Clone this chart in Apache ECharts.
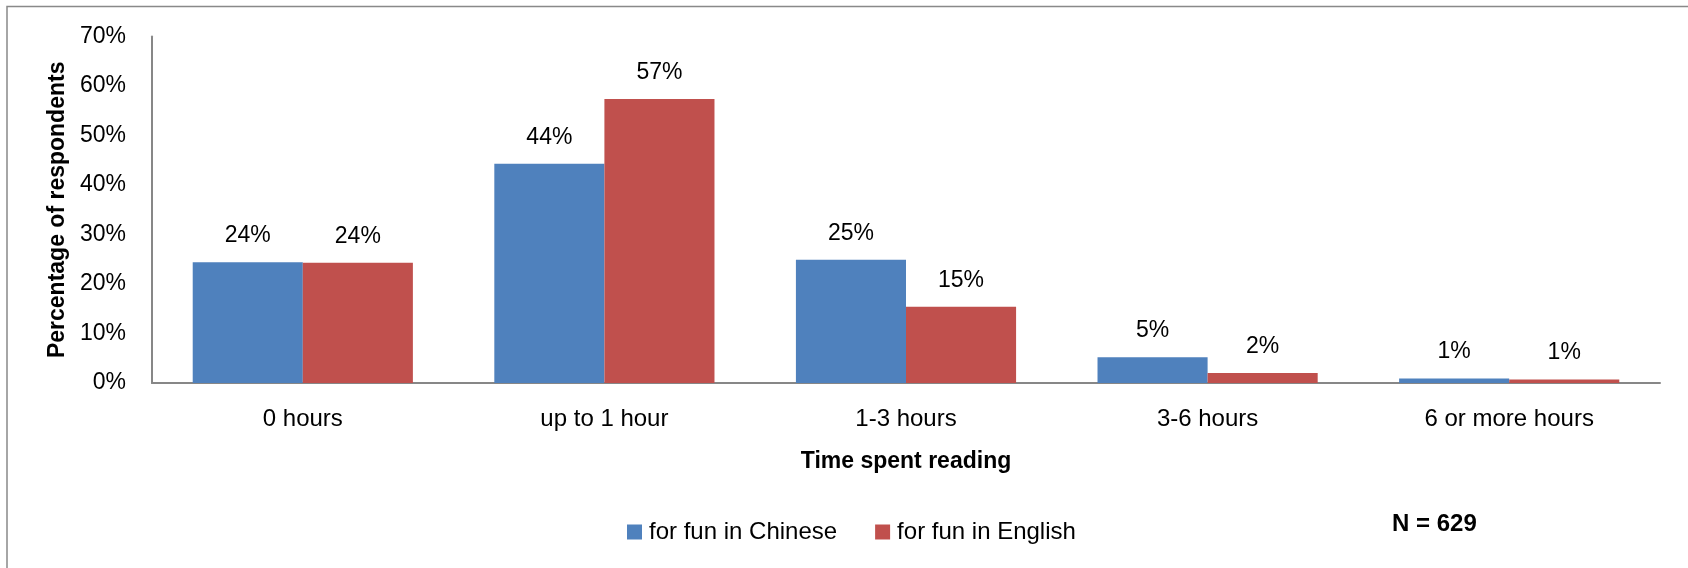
<!DOCTYPE html>
<html>
<head>
<meta charset="utf-8">
<script src="https://cdn.jsdelivr.net/npm/echarts@6/dist/echarts.min.js"></script>
<style>
html,body{margin:0;padding:0;background:#fff;}
#chart{width:1688px;height:568px;}
</style>
</head>
<body>
<div id="chart"></div>
<script>
// Data
const categories = ['0 hours', 'up to 1 hour', '1-3 hours', '3-6 hours', '6 or more hours'];
const seriesNames = ['for fun in Chinese', 'for fun in English'];
const chineseValues = [24.4, 44.3, 24.9, 5.2, 0.9];
const englishValues = [24.3, 57.4, 15.4, 2.0, 0.7];
const yTicks = [0, 10, 20, 30, 40, 50, 60, 70];
const yAxisTitle = 'Percentage of respondents';
const xAxisTitle = 'Time spent reading';
const noteText = 'N = 629';

const FONT = '"Liberation Sans", Arial, sans-serif';
const AXIS_GRAY = '#878787';

const chart = echarts.init(document.getElementById('chart'), null, {renderer: 'canvas'});

const labelOpt = {
  show: true,
  position: 'top',
  distance: 15,
  fontFamily: FONT,
  fontSize: 23,
  color: '#000',
  formatter: p => Math.round(p.value) + '%'
};

chart.setOption({
  animation: false,
  backgroundColor: '#fff',
  grid: {left: 152, right: 28, top: 36.6, bottom: 185, containLabel: false},
  legend: {
    data: seriesNames,
    left: 627,
    top: 520,
    padding: 0,
    itemWidth: 15,
    itemHeight: 15,
    itemGap: 38,
    icon: 'rect',
    textStyle: {fontFamily: FONT, fontSize: 24, color: '#000', lineHeight: 24, padding: [0, 0, 0, 2]}
  },
  xAxis: {
    type: 'category',
    data: categories,
    axisLine: {show: true, lineStyle: {color: AXIS_GRAY, width: 2}},
    axisTick: {show: false},
    axisLabel: {fontFamily: FONT, fontSize: 24, color: '#000', margin: 24},
    name: xAxisTitle,
    nameLocation: 'middle',
    nameGap: 67,
    nameTextStyle: {fontFamily: FONT, fontSize: 23, fontWeight: 'bold', color: '#000'}
  },
  yAxis: {
    type: 'value',
    min: yTicks[0],
    max: yTicks[yTicks.length - 1],
    interval: yTicks[1] - yTicks[0],
    axisLine: {show: true, lineStyle: {color: AXIS_GRAY, width: 2}},
    axisTick: {show: false},
    splitLine: {show: false},
    axisLabel: {fontFamily: FONT, fontSize: 23, color: '#000', margin: 26, formatter: '{value}%'},
    name: yAxisTitle,
    nameLocation: 'middle',
    nameGap: 80,
    nameRotate: 90,
    nameTextStyle: {fontFamily: FONT, fontSize: 23, fontWeight: 'bold', color: '#000'}
  },
  series: [
    {
      name: seriesNames[0],
      type: 'bar',
      data: chineseValues,
      barGap: '0%',
      barCategoryGap: '27%',
      itemStyle: {color: '#4F81BD'},
      label: labelOpt
    },
    {
      name: seriesNames[1],
      type: 'bar',
      data: englishValues,
      barGap: '0%',
      barCategoryGap: '27%',
      itemStyle: {color: '#C0504D'},
      label: labelOpt
    }
  ],
  graphic: [
    {
      type: 'rect',
      silent: true,
      shape: {x: 7, y: 6.5, width: 2000, height: 2000},
      style: {fill: null, stroke: '#898989', lineWidth: 1.5}
    },
    {
      type: 'text',
      left: 1392,
      top: 512,
      style: {text: noteText, font: 'bold 24px ' + FONT, fill: '#000'}
    }
  ]
});
</script>
</body>
</html>
